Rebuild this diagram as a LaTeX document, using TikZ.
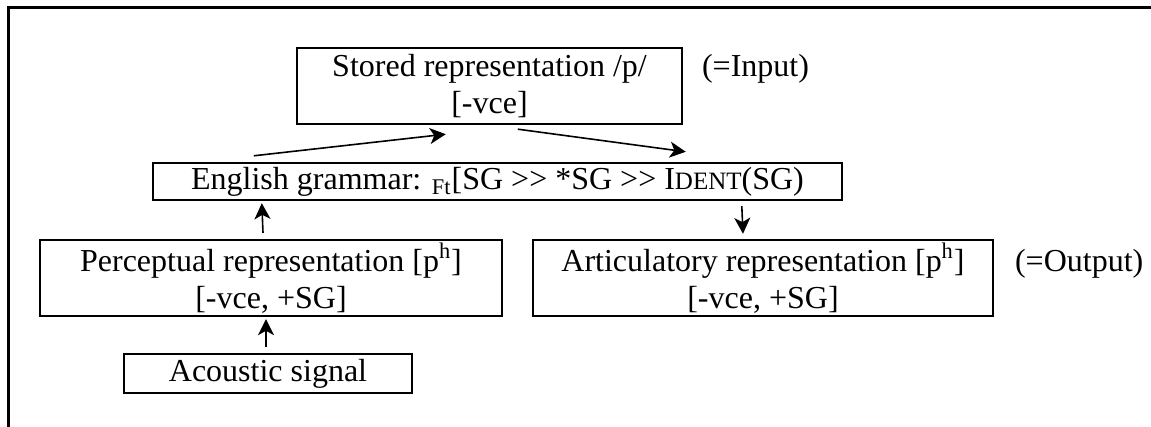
\documentclass[tikz,border=0pt]{standalone}
\usepackage{fontspec}
\setmainfont{Liberation Serif}
\usetikzlibrary{arrows.meta}

\newcommand{\smallcap}[1]{{\fontsize{12.5}{12.5}\selectfont #1}}

\begin{document}
\begin{tikzpicture}[x=0.5pt,y=0.5pt,font=\fontsize{16}{18.5}\selectfont]

      \useasboundingbox (0,0) rectangle (1151,427);
      \draw[line width=1.5pt] (8,0) -- (8,419) -- (1151,419);

      \begin{scope}[every node/.style={draw,line width=1.2pt,inner sep=0pt,align=center}]
        \node[minimum width=192.5pt,minimum height=38pt]   (stored)   at (489.5,341) {Stored representation /p/\\{}[-vce]};
        \node[minimum width=344.5pt,minimum height=18.5pt] (grammar)  at (497.5,245.5)
          {English grammar: \textsubscript{Ft}[SG >{}> *SG >{}> I\smallcap{DENT}(SG)};
        \node[minimum width=231pt,minimum height=38pt]     (percept)  at (271,149) {Perceptual representation [p\textsuperscript{h}]\\{}[-vce, +SG]};
        \node[minimum width=230pt,minimum height=38pt]     (artic)    at (763,149) {Articulatory representation [p\textsuperscript{h}]\\{}[-vce, +SG]};
        \node[minimum width=144pt,minimum height=19.5pt]   (acoustic) at (268,53.5) {Acoustic signal};
      \end{scope}

      \node[anchor=base west] (input)  at (695,350) {(=Input)};
      \node[anchor=base west] (output) at (1008,155) {(=Output)};

      \begin{scope}[every edge/.style={draw,line width=0.8pt,-{Stealth[length=8pt,width=8pt,inset=2.2pt]}}]
        \path ([shift={(102,6)}]grammar.north west)  edge ([shift={(150,-9)}]stored.south west);
        \path ([shift={(222,-4)}]stored.south west)  edge ([shift={(534,10)}]grammar.north west);
        \path ([shift={(-8,6)}]percept.north)        edge ([shift={(110,-2)}]grammar.south west);
        \path ([shift={(-2,6)}]acoustic.north)       edge ([shift={(-5,-2)}]percept.south);
        \path ([shift={(590,-5)}]grammar.south west) edge ([shift={(-20,5)}]artic.north);
      \end{scope}

    \end{tikzpicture}
\end{document}
